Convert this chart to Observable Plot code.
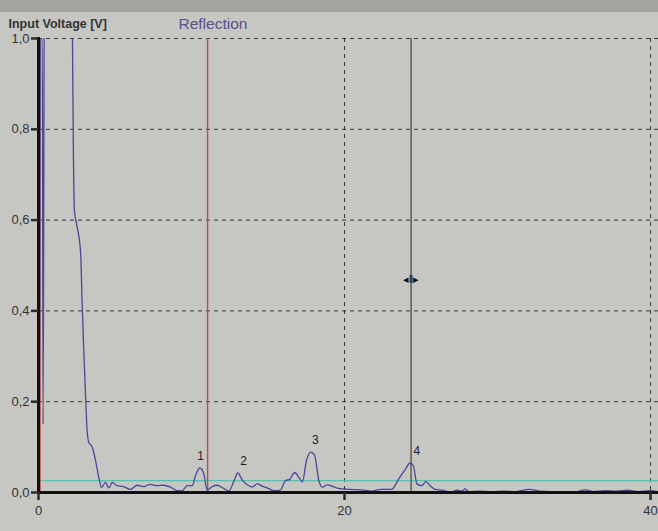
<!DOCTYPE html>
<html>
<head>
<meta charset="utf-8">
<script src="https://cdn.jsdelivr.net/npm/d3@7"></script>
<script src="https://cdn.jsdelivr.net/npm/@observablehq/plot@0.6"></script>
<style>
  html, body { margin: 0; padding: 0; background: #c6c6c2; }
  #chart svg { display: block; }
</style>
</head>
<body>
<div id="chart"></div>
<script>
// ---- data ----
const signalX = [0, 0.05, 0.12, 0.25, 0.3, 0.4, 2.15, 2.22, 2.28, 2.35, 2.5, 2.75, 2.85, 2.96, 3.09, 3.18, 3.29, 3.51, 3.73, 3.94, 4.12, 4.38, 4.6, 4.82, 5.14, 5.56, 6.01, 6.45, 6.86, 7.32, 7.76, 8.17, 8.63, 9.07, 9.39, 9.72, 10.05, 10.26, 10.54, 10.8, 11.03, 11.35, 11.68, 12.11, 12.44, 12.76, 13.03, 13.31, 13.64, 13.97, 14.29, 14.62, 14.95, 15.38, 15.82, 16.14, 16.42, 16.73, 17.01, 17.24, 17.52, 17.78, 18.04, 18.32, 18.54, 18.87, 19.6, 20.26, 21.1, 21.76, 22.4, 23.07, 23.53, 23.97, 24.29, 24.5, 24.73, 25.05, 25.31, 25.6, 25.93, 26.36, 27.01, 27.34, 27.67, 27.89, 28.1, 28.8, 29.6, 30.4, 31.2, 32.1, 32.7, 33.5, 34.4, 35.1, 35.7, 36.3, 37.0, 37.8, 38.5, 39.2, 40.0, 40.5];
const signalY = [0.0, 0.14, 1.0, 1.0, 0.15, 1.3, 1.3, 1.0, 0.75, 0.62, 0.59, 0.53, 0.42, 0.31, 0.2, 0.135, 0.11, 0.1, 0.07, 0.033, 0.011, 0.022, 0.01, 0.022, 0.015, 0.013, 0.007, 0.016, 0.013, 0.018, 0.015, 0.016, 0.012, 0.004, 0.004, 0.015, 0.015, 0.037, 0.054, 0.041, 0.005, 0.013, 0.016, 0.009, 0.003, 0.024, 0.043, 0.028, 0.017, 0.012, 0.019, 0.014, 0.01, 0.004, 0.006, 0.026, 0.029, 0.044, 0.034, 0.023, 0.071, 0.089, 0.082, 0.027, 0.012, 0.017, 0.009, 0.007, 0.006, 0.003, 0.007, 0.007, 0.029, 0.051, 0.065, 0.059, 0.019, 0.015, 0.024, 0.015, 0.007, 0.005, 0.001, 0.005, 0.003, 0.008, 0.002, 0.003, 0.002, 0.003, 0.002, 0.007, 0.003, 0.002, 0.002, 0.001, 0.006, 0.002, 0.004, 0.003, 0.005, 0.002, 0.004, 0.002];

const peakLabels = ["1", "2", "3", "4"];
const peakX = [10.6, 13.4, 18.1, 24.73];
const peakY = [0.081, 0.069, 0.116, 0.092];

const threshold = 0.026;
const redCursors = [0.1, 11.05];
const darkCursor = 24.35;
const handleY = 0.47;

const yTicks = [0, 0.2, 0.4, 0.6, 0.8, 1.0];
const xTicks = [0, 20, 40];
const xGrid = [20, 40];

const titleText = "Input Voltage [V]";
const modeText = "Reflection";

// ---- build ----
const signal = signalX.map((x, i) => ({x, y: signalY[i]}));
const peaks = peakLabels.map((t, i) => ({t, x: peakX[i], y: peakY[i]}));
const fmt = d => d.toFixed(1).replace(".", ",");

const chart = Plot.plot({
  width: 658,
  height: 531,
  marginLeft: 38,
  marginRight: 0,
  marginTop: 38,
  marginBottom: 39,
  x: {domain: [0, 40.52], label: null},
  y: {domain: [0, 1], label: null},
  style: {
    background: "linear-gradient(#a3a39f 0px, #a3a39f 12px, #c6c6c2 12px)",
    fontFamily: "'Liberation Sans', Arial, sans-serif",
    color: "#2b2b2b",
    overflow: "visible"
  },
  marks: [
    Plot.gridY(yTicks.filter(d => d > 0), {stroke: "#1f1f1f", strokeOpacity: 0.85, strokeDasharray: "4,4", strokeWidth: 1}),
    Plot.gridX(xGrid, {stroke: "#1f1f1f", strokeOpacity: 0.85, strokeDasharray: "4,4", strokeWidth: 1}),
    Plot.ruleY([threshold], {stroke: "#4fc2b0", strokeWidth: 1.3}),
    Plot.ruleX(redCursors, {stroke: "#c64a3c", strokeWidth: 1.4}),
    Plot.ruleX([darkCursor], {stroke: "#5c533f", strokeWidth: 1.4}),
    Plot.line(signal, {x: "x", y: "y", stroke: "#4a4896", strokeWidth: 1.3, curve: "monotone-x", clip: true}),
    Plot.text(peaks, {x: "x", y: "y", text: "t", fontSize: 12, fill: "#1c1c1c"}),
    Plot.text([darkCursor], {x: d => d, y: () => handleY, text: () => "◂‖▸", fontSize: 11, fill: "#111"}),
    Plot.frame({anchor: "left", stroke: "#111", strokeWidth: 3}),
    Plot.frame({anchor: "bottom", stroke: "#111", strokeWidth: 3}),
    Plot.axisY(yTicks, {label: null, tickFormat: fmt, tickSize: 7, tickPadding: 2, strokeWidth: 2.5, fontSize: 13, fill: "#333"}),
    Plot.axisX(xTicks, {label: null, tickFormat: d => String(d), tickSize: 8, tickPadding: 5, strokeWidth: 2.5, fontSize: 13, fill: "#333"}),
    Plot.text([titleText], {frameAnchor: "top-left", text: d => d, dx: -30, dy: -19, textAnchor: "start", fontSize: 12.5, fill: "#333", fontWeight: "bold"}),
    Plot.text([modeText], {frameAnchor: "top-left", text: d => d, dx: 140, dy: -21, textAnchor: "start", fontSize: 15.5, fill: "#5a4f90"})
  ]
});

document.getElementById("chart").appendChild(chart);
</script>
</body>
</html>
